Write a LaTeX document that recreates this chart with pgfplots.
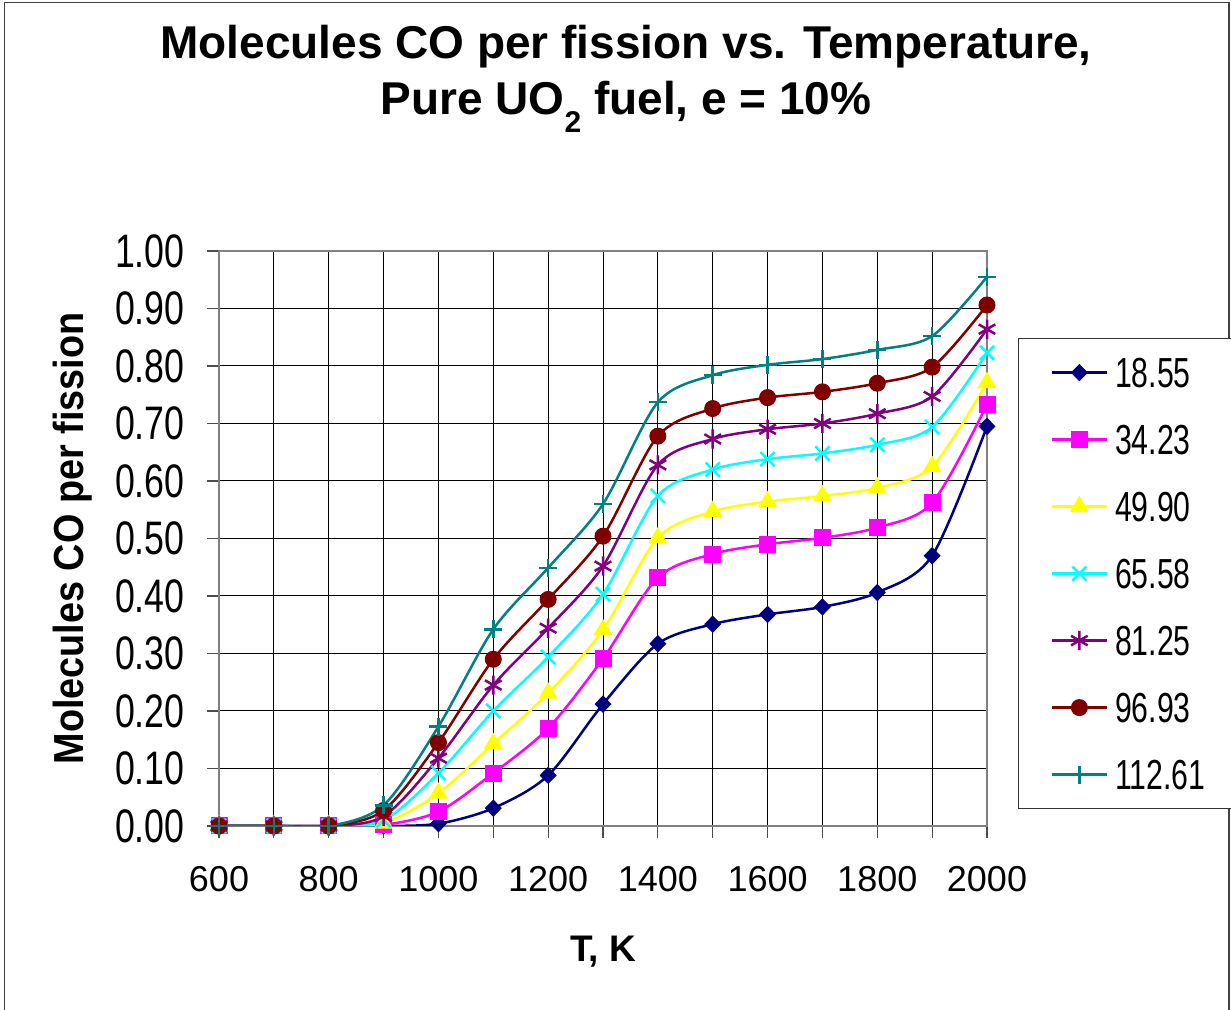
\documentclass[border=0pt]{standalone}
\usepackage{fontspec}
\setmainfont{Liberation Sans}
\newfontfamily\ytickfont[FakeStretch=0.76]{Liberation Sans}
\newfontfamily\legfont[FakeStretch=0.72]{Liberation Sans}
\newfontfamily\ylabfont[FakeStretch=0.9]{Liberation Sans}
\usepackage{pgfplots}
\pgfplotsset{compat=1.18}
\definecolor{cNavy}{RGB}{0,0,128}
\definecolor{cMag}{RGB}{255,0,255}
\definecolor{cYel}{RGB}{255,255,0}
\definecolor{cCyan}{RGB}{0,255,255}
\definecolor{cPurp}{RGB}{128,0,128}
\definecolor{cDred}{RGB}{128,0,0}
\definecolor{cTeal}{RGB}{0,128,128}

\pgfplotstableread{
T     a     b     c     d     e     f     g
600   0     0     0     0     0     0     0
700   0     0     0     0     0     0     0
800   0     0     0     0     0     0     0
900   0     0.002 0.005 0.010 0.017 0.027 0.036
1000  0.004 0.025 0.057 0.092 0.118 0.145 0.173
1100  0.031 0.092 0.143 0.200 0.245 0.290 0.342
1200  0.088 0.170 0.231 0.294 0.344 0.394 0.449
1300  0.212 0.291 0.341 0.403 0.452 0.504 0.560
1400  0.317 0.432 0.501 0.574 0.628 0.678 0.737
1500  0.351 0.473 0.547 0.620 0.673 0.726 0.784
1600  0.368 0.490 0.564 0.638 0.690 0.745 0.802
1700  0.381 0.501 0.574 0.648 0.700 0.755 0.812
1800  0.406 0.519 0.588 0.663 0.717 0.770 0.828
1900  0.470 0.562 0.625 0.694 0.747 0.798 0.852
2000  0.695 0.733 0.771 0.823 0.864 0.906 0.955
}\datatable

\begin{document}
\begin{tikzpicture}
\useasboundingbox (0,0) rectangle (615.5pt,505pt);
\fill[white] (0,0) rectangle (615.5pt,505pt);
\draw[line width=0.75pt, black!75] (2.25pt,-3pt) rectangle (614.5pt,503.75pt);
\node[anchor=base, inner sep=0pt, font=\fontsize{23}{24}\selectfont\bfseries] at (313pt,475.5pt) {Molecules CO per fission vs. Temperature,};
\node[anchor=base, inner sep=0pt, font=\fontsize{23}{24}\selectfont\bfseries] at (313pt,447.5pt) {Pure UO\raisebox{-9pt}{\fontsize{15}{15}\selectfont 2} fuel, e = 10\%};
\begin{axis}[
  at={(109.5pt,92pt)}, anchor=south west,
  scale only axis, width=384pt, height=287.5pt,
  xmin=600, xmax=2000, ymin=0, ymax=1,
  xtick={600,700,...,2000},
  xticklabels={600,,800,,1000,,1200,,1400,,1600,,1800,,2000},
  ytick={0,0.1,...,1.0},
  grid=major,
  major grid style={black, line width=0.5pt},
  tick align=outside, tick pos=left,
  major tick length=6pt,
  tick style={black!70, line width=0.6pt},
  axis line style={draw=gray, line width=1pt},
  /pgf/number format/assume math mode=true,
  yticklabel style={/pgf/number format/.cd, fixed, fixed zerofill, precision=2, /tikz/.cd,
     font=\fontsize{23.5}{24}\ytickfont, inner sep=0pt, anchor=east, xshift=-11pt},
  xticklabel style={font=\fontsize{18}{20}\selectfont, inner sep=0pt, anchor=base, yshift=-27pt},
  xlabel={T, K},
  xlabel style={font=\fontsize{18.5}{20}\selectfont\bfseries, at={(axis description cs:0.5,-0.2365)}, anchor=base, inner sep=0pt},
  ylabel={Molecules CO per fission},
  ylabel style={font=\fontsize{21}{22}\ylabfont\bfseries, at={(axis description cs:-0.176,0.5)}, anchor=base, inner sep=0pt},
  legend style={at={(axis description cs:1.0404,0.8487)}, anchor=north west,
     draw=black!80, line width=0.6pt, inner xsep=16pt, inner ysep=9.5pt,
     row sep=18.5pt, column sep=3.5pt,
     nodes={font=\fontsize{21}{22}\legfont, inner sep=0pt, text height=15pt, text depth=0pt, text width=42pt}},
  legend cell align=left,
  legend image code/.code={\draw[mark repeat=2,mark phase=2,#1] plot coordinates {(0pt,0pt) (13.75pt,0pt) (27.5pt,0pt)};},
  every axis plot/.append style={line width=1.25pt, smooth},
]
\addplot[cNavy, mark=diamond*, mark size=4pt, mark options={fill=cNavy, xscale=1.3, line width=0.5pt}] table[x=T,y=a] {\datatable};
\addlegendentry{18.55}
\addplot[cMag, mark=square*, mark size=4pt, mark options={fill=cMag, line width=0.5pt}] table[x=T,y=b] {\datatable};
\addlegendentry{34.23}
\addplot[cYel, mark=triangle*, mark size=5pt, mark options={fill=cYel, line width=0.5pt}] table[x=T,y=c] {\datatable};
\addlegendentry{49.90}
\addplot[cCyan, mark=x, mark size=5pt, mark options={line width=1.25pt}] table[x=T,y=d] {\datatable};
\addlegendentry{65.58}
\addplot[cPurp, mark=asterisk, mark size=4.8pt, mark options={line width=1.25pt}] table[x=T,y=e] {\datatable};
\addlegendentry{81.25}
\addplot[cDred, mark=*, mark size=4pt, mark options={fill=cDred, line width=0.5pt}] table[x=T,y=f] {\datatable};
\addlegendentry{96.93}
\addplot[cTeal, mark=+, mark size=4.5pt, mark options={line width=1.25pt}] table[x=T,y=g] {\datatable};
\addlegendentry{112.61}
\end{axis}
\end{tikzpicture}
\end{document}
